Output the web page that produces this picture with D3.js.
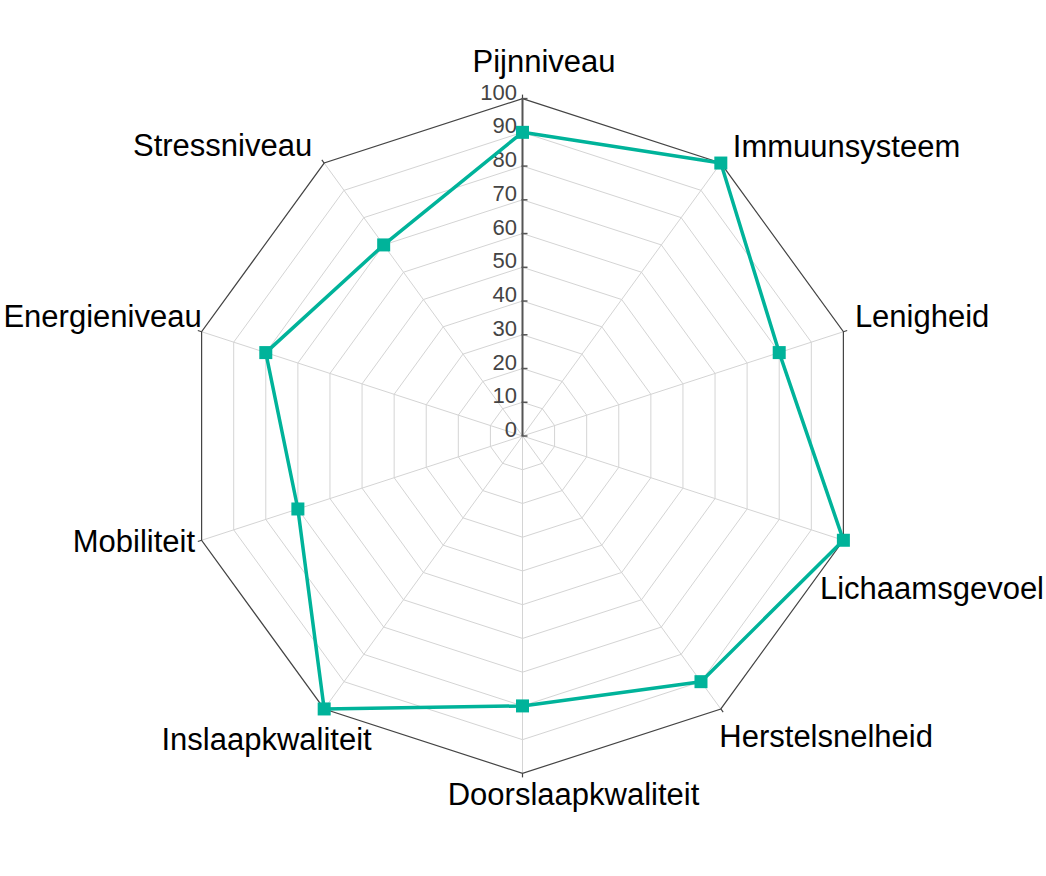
<!DOCTYPE html>
<html>
<head>
<meta charset="utf-8">
<script src="https://cdn.jsdelivr.net/npm/d3@7"></script>
<style>
  html, body { margin: 0; padding: 0; background: #fff; }
  svg { display: block; font-family: "Liberation Sans", Arial, Helvetica, sans-serif; }
</style>
</head>
<body>
<svg id="chart" width="1046" height="876"></svg>
<script>
// ---- data ----
const categories = ["Pijnniveau", "Immuunsysteem", "Lenigheid", "Lichaamsgevoel", "Herstelsnelheid",
                    "Doorslaapkwaliteit", "Inslaapkwaliteit", "Mobiliteit", "Energieniveau", "Stressniveau"];
const values = [90, 100, 80, 100, 90, 80, 100, 70, 80, 70];
const radialTicks = [0, 10, 20, 30, 40, 50, 60, 70, 80, 90, 100];

// ---- layout ----
const W = 1046, H = 876;
const cx = 522.5, cy = 436, R = 337.4;
const lineColor = "#00b39a";

// label placement relative to the outer vertex: [anchor, dx, dy]
const labelLayout = [
  ["middle", 21.5, -26.6],
  ["start", 12, -6],
  ["start", 11.5, -4.7],
  ["start", -23.4, 58.7],
  ["start", -1.5, 37.7],
  ["middle", 51, 31.6],
  ["end", 47.5, 41],
  ["end", -6.6, 11.7],
  ["end", 0, -4.7],
  ["end", -12, -7]
];

const svg = d3.select("#chart");
const g = svg.append("g").attr("transform", `translate(${cx},${cy})`);

const r = d3.scaleLinear().domain([0, 100]).range([0, R]);
const angle = d3.scalePoint().domain(categories).range([0, 2 * Math.PI * (categories.length - 1) / categories.length]);

const px = (cat, v) => r(v) * Math.sin(angle(cat));
const py = (cat, v) => -r(v) * Math.cos(angle(cat));

// grid polygons
const gridLine = d3.line().x(d => d[0]).y(d => d[1]).curve(d3.curveLinearClosed);
radialTicks.slice(1, -1).forEach(t => {
  g.append("path")
    .attr("d", gridLine(categories.map(c => [px(c, t), py(c, t)])))
    .attr("fill", "none").attr("stroke", "#d4d4d4").attr("stroke-width", 1);
});

// spokes
categories.forEach(c => {
  g.append("line")
    .attr("x1", 0).attr("y1", 0)
    .attr("x2", px(c, 100)).attr("y2", py(c, 100))
    .attr("stroke", "#d4d4d4").attr("stroke-width", 1);
});

// outer polygon
g.append("path")
  .attr("d", gridLine(categories.map(c => [px(c, 100), py(c, 100)])))
  .attr("fill", "none").attr("stroke", "#444").attr("stroke-width", 1.2);

// angular ticks at outer vertices
categories.forEach(c => {
  const a = angle(c);
  g.append("line")
    .attr("x1", r(100) * Math.sin(a)).attr("y1", -r(100) * Math.cos(a))
    .attr("x2", (r(100) + 4) * Math.sin(a)).attr("y2", -(r(100) + 4) * Math.cos(a))
    .attr("stroke", "#444").attr("stroke-width", 1.2);
});

// radial axis
g.append("line")
  .attr("x1", 0).attr("y1", 0).attr("x2", 0).attr("y2", -r(100))
  .attr("stroke", "#555").attr("stroke-width", 2);
radialTicks.forEach(t => {
  g.append("line")
    .attr("x1", -1).attr("x2", 5)
    .attr("y1", -r(t)).attr("y2", -r(t))
    .attr("stroke", "#555").attr("stroke-width", 1.5);
  g.append("text")
    .attr("x", -5.5).attr("y", -r(t) + 1)
    .attr("text-anchor", "end")
    .attr("font-size", 22).attr("fill", "#444")
    .text(t);
});

// data line
const dataLine = d3.line()
  .x((d, i) => px(categories[i], d))
  .y((d, i) => py(categories[i], d))
  .curve(d3.curveLinearClosed);
g.append("path")
  .attr("d", dataLine(values))
  .attr("fill", "none").attr("stroke", lineColor).attr("stroke-width", 3.5)
  .attr("stroke-linejoin", "round");

// markers
const ms = 13;
g.selectAll("rect.marker").data(values).enter().append("rect")
  .attr("class", "marker")
  .attr("x", (d, i) => px(categories[i], d) - ms / 2)
  .attr("y", (d, i) => py(categories[i], d) - ms / 2)
  .attr("width", ms).attr("height", ms)
  .attr("fill", lineColor);

// category labels
categories.forEach((c, i) => {
  const [anchor, dx, dy] = labelLayout[i];
  g.append("text")
    .attr("x", px(c, 100) + dx)
    .attr("y", py(c, 100) + dy)
    .attr("text-anchor", anchor)
    .attr("font-size", 31).attr("fill", "#000")
    .text(c);
});
</script>
</body>
</html>
